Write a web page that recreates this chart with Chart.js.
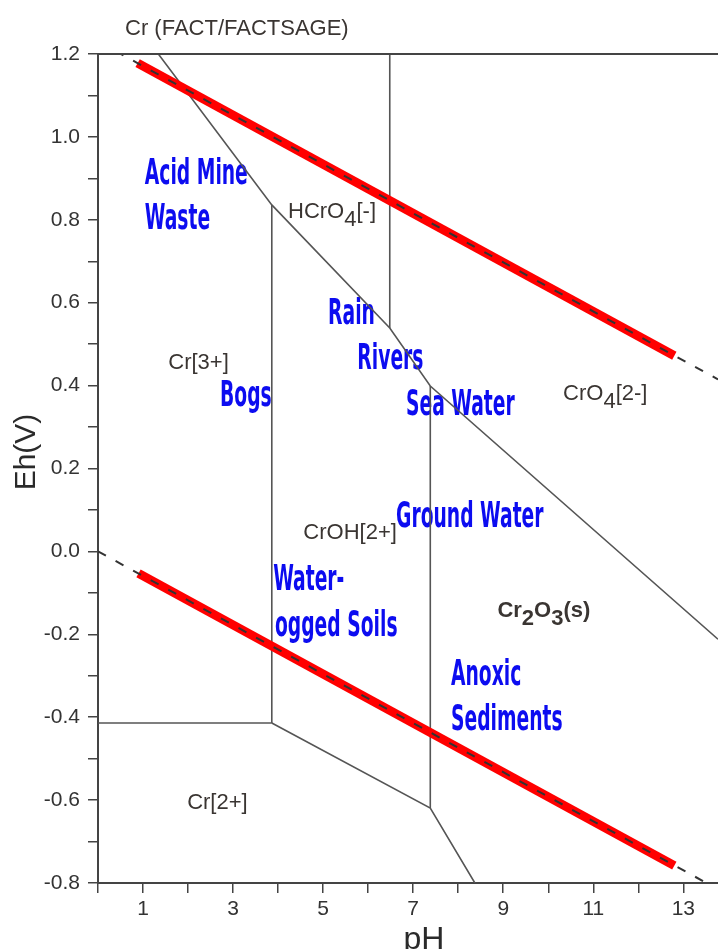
<!DOCTYPE html>
<html>
<head>
<meta charset="utf-8">
<script src="https://cdn.jsdelivr.net/npm/chart.js@4.4.1/dist/chart.umd.min.js"></script>
<style>
  html, body { margin: 0; padding: 0; background: #fff; }
  #wrap { width: 718px; height: 949px; }
</style>
</head>
<body>
<div id="wrap"><canvas id="ehph" width="718" height="949"></canvas></div>
<script>
// axis ranges (plot is cut off on the right)
const pHRange = [0, 13.77];
const ehRange = [-0.8, 1.2];

// water stability lines (dashed) and the red part of them
const o2LinePH = [0, 13.77];
const o2LineEh = [1.23, 0.415];
const h2LinePH = [0, 13.77];
const h2LineEh = [0.0, -0.815];
const o2BandPH = [0.88, 12.8];
const o2BandEh = [1.178, 0.472];
const h2BandPH = [0.9, 12.8];
const h2BandEh = [-0.053, -0.758];

// phase boundaries
const upperBoundPH = [1.34, 3.86, 6.48, 7.38, 13.77];
const upperBoundEh = [1.2, 0.836, 0.539, 0.399, -0.212];
const hcro4BoundPH = [6.48, 6.48];
const hcro4BoundEh = [1.2, 0.539];
const cr3BoundPH = [3.86, 3.86];
const cr3BoundEh = [0.836, -0.414];
const crohBoundPH = [7.38, 7.38];
const crohBoundEh = [0.399, -0.619];
const cr2TopPH = [0, 3.86];
const cr2TopEh = [-0.414, -0.414];
const cr2RightPH = [3.86, 7.38, 8.37];
const cr2RightEh = [-0.414, -0.619, -0.8];

// species fields ( _ = next char is a subscript )
const speciesNames = ['HCrO_4[-]', 'Cr[3+]', 'CrO_4[2-]', 'CrOH[2+]', 'Cr_2O_3(s)', 'Cr[2+]'];
const speciesPH = [4.22, 1.56, 10.33, 4.56, 8.87, 1.98];
const speciesEh = [0.824, 0.459, 0.385, 0.049, -0.139, -0.602];

// natural environments
const envNames = ['Acid Mine', 'Waste', 'Bogs', 'Rain', 'Rivers', 'Sea Water', 'Ground Water',
                  'Water-', 'ogged Soils', 'Anoxic', 'Sediments'];
const envPH = [1.04, 1.04, 2.71, 5.11, 5.76, 6.84, 6.62, 3.89, 3.93, 7.84, 7.84];
const envEh = [0.916, 0.809, 0.382, 0.578, 0.469, 0.360, 0.090, -0.062, -0.173, -0.293, -0.401];

const pts = (xs, ys) => xs.map((v, i) => ({ x: v, y: ys[i] }));

function lineSet(xs, ys, color, width, order, dash) {
  return {
    data: pts(xs, ys),
    borderColor: color,
    borderWidth: width,
    borderDash: dash || [],
    borderCapStyle: 'butt',
    pointRadius: 0,
    fill: false,
    tension: 0,
    order: order
  };
}

const inkColor = '#3a3532';

function drawSpecies(ctx, name, px, py) {
  const bold = name.indexOf('(s)') >= 0;
  ctx.font = (bold ? 'bold ' : '') + '22px "Liberation Sans", Arial, sans-serif';
  let cx = px;
  for (let i = 0; i < name.length; i++) {
    let ch = name[i], dy = 0;
    if (ch === '_') { i++; ch = name[i]; dy = 8; }
    ctx.fillText(ch, cx, py + dy);
    cx += ctx.measureText(ch).width;
  }
}

const textPlugin = {
  id: 'ehText',
  beforeDatasetsDraw(chart) {
    const { ctx, scales: { x, y } } = chart;
    ctx.save();
    ctx.textBaseline = 'alphabetic';
    ctx.textAlign = 'left';
    ctx.fillStyle = inkColor;
    speciesNames.forEach((n, i) => {
      drawSpecies(ctx, n, x.getPixelForValue(speciesPH[i]), y.getPixelForValue(speciesEh[i]) + 8);
    });

    ctx.font = 'bold 35px "DejaVu Sans Condensed", "DejaVu Sans", sans-serif';
    const squeeze = 103 / ctx.measureText('Acid Mine').width;
    ctx.fillStyle = '#0c0cf0';
    envNames.forEach((t, i) => {
      ctx.save();
      ctx.translate(x.getPixelForValue(envPH[i]), y.getPixelForValue(envEh[i]) + 12.5);
      ctx.scale(squeeze, 1);
      ctx.fillText(t, 0, 0);
      ctx.restore();
    });
    ctx.restore();
  },
  afterDraw(chart) {
    const { ctx, chartArea } = chart;
    ctx.save();
    // top frame
    ctx.strokeStyle = '#444';
    ctx.lineWidth = 2;
    ctx.beginPath();
    ctx.moveTo(chartArea.left, chartArea.top);
    ctx.lineTo(chartArea.right, chartArea.top);
    ctx.stroke();

    ctx.fillStyle = inkColor;
    ctx.textBaseline = 'alphabetic';
    ctx.font = '22px "Liberation Sans", Arial, sans-serif';
    ctx.textAlign = 'left';
    ctx.fillText('Cr (FACT/FACTSAGE)', 125, 35);

    ctx.fillStyle = '#2a2a2a';
    ctx.font = '32px "Liberation Sans", Arial, sans-serif';
    ctx.textAlign = 'center';
    ctx.fillText('pH', 424, 949);

    ctx.save();
    ctx.translate(35, 452);
    ctx.rotate(-Math.PI / 2);
    ctx.font = '30px "Liberation Sans", Arial, sans-serif';
    ctx.fillText('Eh(V)', 0, 0);
    ctx.restore();
    ctx.restore();
  }
};

const tickFont = { family: '"Liberation Sans", Arial, sans-serif', size: 21 };

new Chart(document.getElementById('ehph'), {
  type: 'line',
  data: {
    datasets: [
      lineSet(o2LinePH, o2LineEh, '#333', 2, 0, [9, 11]),
      lineSet(h2LinePH, h2LineEh, '#333', 2, 0, [9, 11]),
      lineSet(o2BandPH, o2BandEh, '#ff0000', 9, 1),
      lineSet(h2BandPH, h2BandEh, '#ff0000', 9, 1),
      lineSet(upperBoundPH, upperBoundEh, '#555', 1.6, 2),
      lineSet(hcro4BoundPH, hcro4BoundEh, '#555', 1.6, 2),
      lineSet(cr3BoundPH, cr3BoundEh, '#555', 1.6, 2),
      lineSet(crohBoundPH, crohBoundEh, '#555', 1.6, 2),
      lineSet(cr2TopPH, cr2TopEh, '#555', 1.6, 2),
      lineSet(cr2RightPH, cr2RightEh, '#555', 1.6, 2)
    ]
  },
  options: {
    responsive: false,
    animation: false,
    layout: { padding: { top: 54, right: 0, left: 0, bottom: 0 } },
    plugins: { legend: { display: false }, tooltip: { enabled: false }, title: { display: false } },
    scales: {
      x: {
        type: 'linear',
        min: pHRange[0],
        max: pHRange[1],
        afterFit: s => { s.height = 66; },
        ticks: {
          stepSize: 1,
          includeBounds: false,
          autoSkip: false,
          maxRotation: 0,
          padding: 4,
          color: '#333',
          font: tickFont,
          callback: v => (Math.round(v) % 2 === 1 ? String(Math.round(v)) : '')
        },
        grid: { drawOnChartArea: false, tickLength: 10, color: '#444', lineWidth: 1.5 },
        border: { color: '#444', width: 2 }
      },
      y: {
        type: 'linear',
        min: ehRange[0],
        max: ehRange[1],
        afterFit: s => { s.width = 98; },
        ticks: {
          stepSize: 0.1,
          autoSkip: false,
          padding: 8,
          color: '#333',
          font: tickFont,
          callback: v => {
            const r = Math.round(v * 10);
            if (r % 2 !== 0) return '';
            const val = r / 10;
            return (val === 0 ? 0 : val).toFixed(1);
          }
        },
        grid: { drawOnChartArea: false, tickLength: 10, color: '#444', lineWidth: 1.5 },
        border: { color: '#444', width: 2 }
      }
    }
  },
  plugins: [textPlugin]
});
</script>
</body>
</html>
